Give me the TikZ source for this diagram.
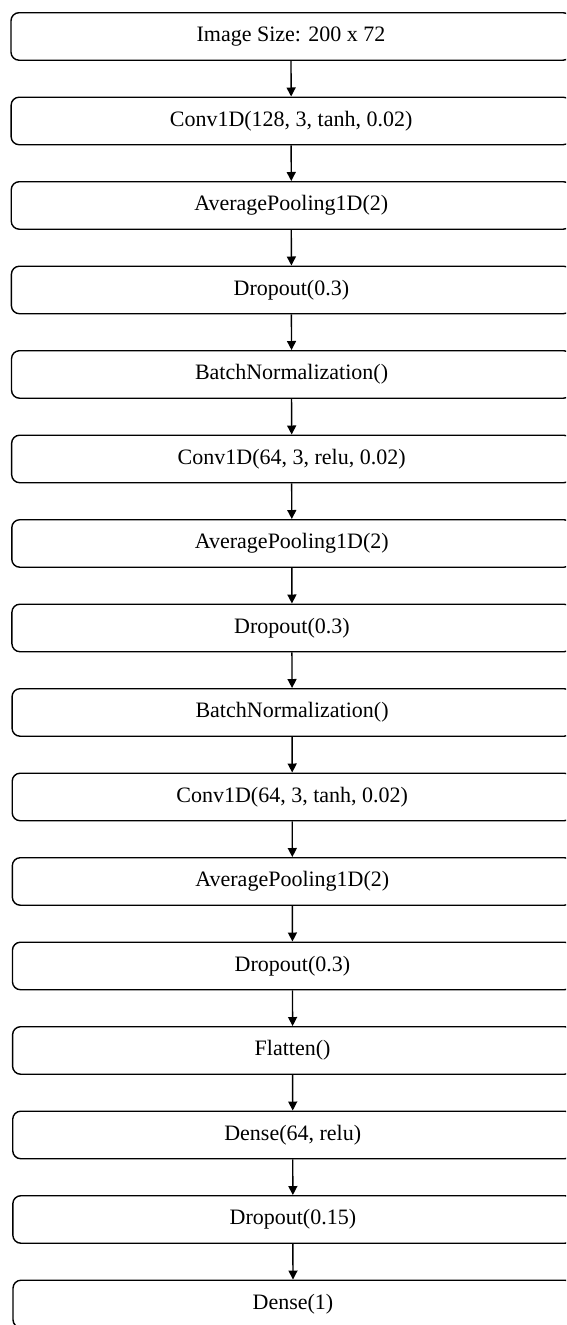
\documentclass[tikz,border=0pt]{standalone}
\usepackage{fontspec}
\setmainfont{Liberation Serif}
\usetikzlibrary{arrows.meta}
\begin{document}
\begin{tikzpicture}[x=1pt,y=-1pt,
  layer/.style={draw, line width=1.4pt, rounded corners=8pt, minimum width=560pt,
    minimum height=47.5pt, inner sep=0pt, font=\fontsize{22}{26}\selectfont, anchor=north},
  flow/.style={-{Triangle[length=9pt,width=9pt]}, line width=1.4pt}]
\useasboundingbox (0,0) rectangle (566,1325);
\clip (0,0) rectangle (566,1325);
\foreach \t [count=\i from 0] in {
  {Image Size: 200 x 72},
  {Conv1D(128, 3, tanh, 0.02)},
  {AveragePooling1D(2)},
  {Dropout(0.3)},
  {BatchNormalization()},
  {Conv1D(64, 3, relu, 0.02)},
  {AveragePooling1D(2)},
  {Dropout(0.3)},
  {BatchNormalization()},
  {Conv1D(64, 3, tanh, 0.02)},
  {AveragePooling1D(2)},
  {Dropout(0.3)},
  {Flatten()},
  {Dense(64, relu)},
  {Dropout(0.15)},
  {Dense(1)}} {
  \node[layer] (n\i) at ({291+2*\i/15}, {12+84.5*\i}) {\t};
}
\foreach \i [evaluate=\i as \j using int(\i+1)] in {0,...,14}
  \draw[flow] (n\i.south) -- (n\j.north);
\end{tikzpicture}
\end{document}
